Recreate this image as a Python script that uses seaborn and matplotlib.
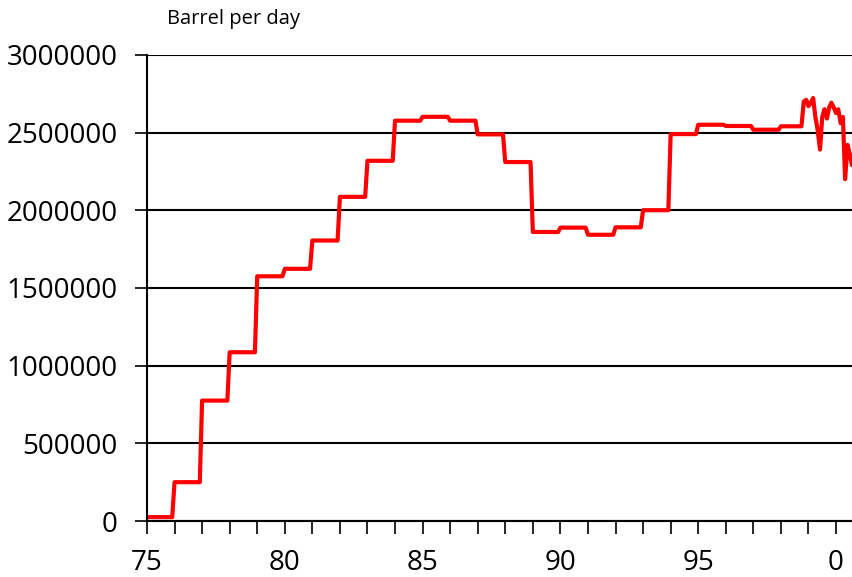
import numpy as np
import pandas as pd
import matplotlib
matplotlib.use("Agg")
import matplotlib.pyplot as plt
from matplotlib.ticker import MultipleLocator, FuncFormatter
import seaborn as sns

# annual production levels (year offset from 1900, barrel per day)
years = [75, 76, 77, 78, 79, 80, 81, 82, 83, 84, 85, 86, 87, 88, 89, 90, 91, 92,
         93, 94, 95, 96, 97, 98]
annual_bpd = [25000, 250000, 775000, 1086000, 1575000, 1623000, 1805000, 2086000,
              2318000, 2576000, 2601000, 2576000, 2488000, 2310000, 1860000, 1888000,
              1842000, 1890000, 2000000, 2490000, 2550000, 2542000, 2518000, 2540000]

# monthly values at the end of the series
months = [98.83, 98.92, 99.0, 99.08, 99.17, 99.25, 99.33, 99.42, 99.5, 99.58,
          99.67, 99.75, 99.83, 99.92, 100.0, 100.08, 100.17, 100.25, 100.33,
          100.42, 100.5, 100.58]
monthly_bpd = [2700000, 2710000, 2670000, 2690000, 2722000, 2600000, 2520000,
               2390000, 2600000, 2650000, 2590000, 2660000, 2692000, 2660000,
               2625000, 2650000, 2560000, 2600000, 2200000, 2420000, 2360000,
               2290000]

# step series: each annual value held through the year
xs, ys = [], []
for y, v in zip(years, annual_bpd):
    end = min(y + 11 / 12, months[0] - 1 / 12)
    xs += [y, end]
    ys += [v, v]
xs += months
ys += monthly_bpd
df = pd.DataFrame({"year": xs, "bpd": ys})

sns.set_style("white")
plt.rcParams["font.family"] = ["Open Sans", "DejaVu Sans"]
plt.rcParams["text.color"] = "black"
plt.rcParams["xtick.labelcolor"] = "black"
plt.rcParams["ytick.labelcolor"] = "black"

fig = plt.figure(figsize=(8.52, 5.77), dpi=100)
ax = fig.add_axes([0.1725, 0.097, 0.8275, 0.808])

sns.lineplot(data=df, x="year", y="bpd", color="#ff0000", linewidth=3,
             sort=False, estimator=None, ax=ax)

ax.set_xlim(75, 100.58)
ax.set_ylim(0, 3000000)
ax.set_yticks(np.arange(0, 3000001, 500000))
ax.yaxis.set_major_formatter(FuncFormatter(lambda v, p: "%d" % v))
ax.xaxis.set_major_locator(MultipleLocator(1))
ax.xaxis.set_major_formatter(
    FuncFormatter(lambda v, p: str(int(round(v)) % 100) if round(v) % 5 == 0 else ""))

ax.grid(axis="y", color="black", linewidth=1.5)
ax.set_axisbelow(True)
for s in ["top", "right"]:
    ax.spines[s].set_visible(False)
for s in ["left", "bottom"]:
    ax.spines[s].set_color("black")
    ax.spines[s].set_linewidth(1.5)

ax.tick_params(axis="x", direction="out", length=9, width=1.2, color="black",
               bottom=True, labelsize=20, pad=11)
ax.tick_params(axis="y", direction="out", length=9, width=1.2, color="black",
               left=True, labelsize=20, pad=12)
ax.set_xlabel("")
ax.set_ylabel("")

fig.text(0.196, 0.967, "Barrel per day", fontsize=14.5, va="center", ha="left")

fig.savefig("out.png", dpi=100)
